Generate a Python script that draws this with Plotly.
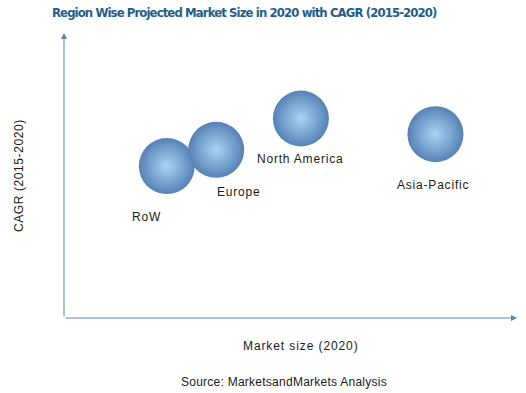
import plotly.graph_objects as go

regions = ["RoW", "Europe", "North America", "Asia-Pacific"]
market_size_2020 = [22.7, 33.6, 52.3, 82.0]
cagr_2015_2020 = [53.3, 59.0, 70.0, 64.5]
bubble_size = [56, 56, 56, 56]
label_dx = [-20, 23, -1, -2]
label_dy = [-51, -42, -40, -51]

fig = go.Figure()
fig.add_trace(go.Scatter(
    x=market_size_2020, y=cagr_2015_2020, mode="markers",
    marker=dict(size=bubble_size, color="#5582B5",
                gradient=dict(type="radial", color="#A9D5F4"),
                line=dict(width=0), opacity=1),
    hoverinfo="text", text=regions, showlegend=False,
))

txt_font = dict(family="Liberation Sans, Arial", size=12, color="#1A1A1A")


def spaced(s, px):
    return f"<span style=\"letter-spacing:{px}px\">{s}</span>"


annotations = []
for name, x, y, dx, dy in zip(regions, market_size_2020, cagr_2015_2020, label_dx, label_dy):
    annotations.append(dict(x=x, y=y, xref="x", yref="y", text=spaced(name, 0.8), showarrow=False,
                            xanchor="center", yanchor="middle",
                            xshift=dx, yshift=dy, font=txt_font))

axis_color = "#5B84B5"
annotations.append(dict(x=0, y=1, xref="x domain", yref="y domain", ax=0, ay=0,
                        axref="x domain", ayref="y domain", showarrow=True, text="",
                        arrowhead=2, arrowsize=1.2, arrowwidth=1, arrowcolor=axis_color))
annotations.append(dict(x=1, y=0, xref="x domain", yref="y domain", ax=0, ay=0,
                        axref="x domain", ayref="y domain", showarrow=True, text="",
                        arrowhead=2, arrowsize=1.2, arrowwidth=1, arrowcolor=axis_color))

annotations.append(dict(x=0.523, y=-0.098, xref="paper", yref="paper",
                        text=spaced("Market size (2020)", 0.9),
                        xanchor="center", yanchor="middle", showarrow=False, font=txt_font))
annotations.append(dict(x=-0.0993, y=0.498, xref="paper", yref="paper",
                        text=spaced("CAGR (2015-2020)", 0.6),
                        xanchor="center", yanchor="middle", textangle=-90, showarrow=False, font=txt_font))
annotations.append(dict(x=0.486, y=-0.2246, xref="paper", yref="paper",
                        text=spaced("Source: MarketsandMarkets Analysis", 0.25),
                        xanchor="center", yanchor="middle", showarrow=False, font=txt_font))

title_text = ("<b><span style=\"letter-spacing:-0.9px\">"
              "Region Wise Projected Market Size in 2020 with CAGR (2015-2020)</span></b>")

fig.update_layout(
    width=526, height=393,
    margin=dict(l=64, r=9, t=33, b=75),
    paper_bgcolor="white", plot_bgcolor="white",
    title=dict(text=title_text,
               x=52/526, xref="container", xanchor="left",
               y=1-12/393, yref="container", yanchor="middle",
               font=dict(family="DejaVu Sans Condensed, Liberation Sans Narrow, sans-serif",
                         size=13, color="#235D8C")),
    xaxis=dict(range=[0, 100], visible=False, fixedrange=True),
    yaxis=dict(range=[0, 100], visible=False, fixedrange=True),
    annotations=annotations,
)

fig.write_html("out.html", config={"displayModeBar": False},
               post_script="document.body.style.margin='0';")
